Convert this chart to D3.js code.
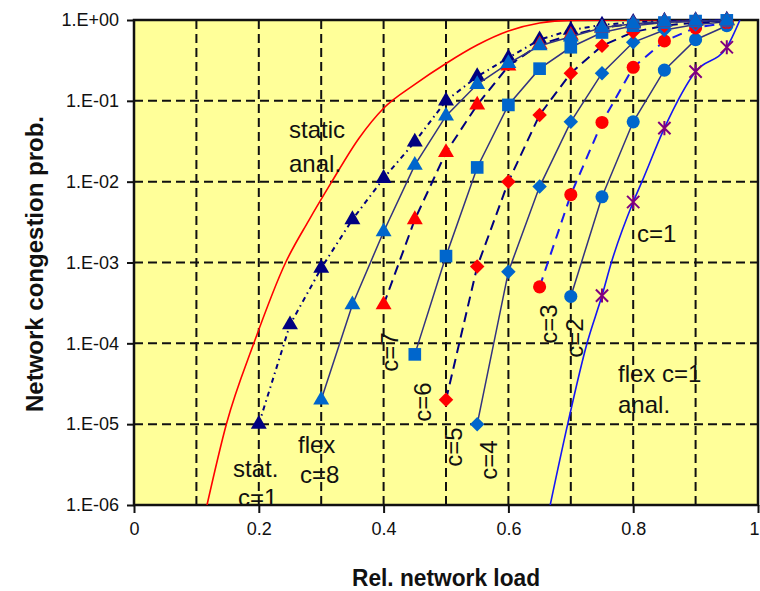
<!DOCTYPE html>
<html>
<head>
<meta charset="utf-8">
<script src="https://cdn.jsdelivr.net/npm/d3@7"></script>
<style>
  body { margin: 0; background: #fff; }
  svg { display: block; }
  text { font-family: "Liberation Sans", Arial, sans-serif; fill: #111; }
</style>
</head>
<body>
<div id="chart"></div>
<script>
// Network congestion probability vs relative network load (log y).

// ---- data ----
const loadStat = [0.2, 0.25, 0.3, 0.35, 0.4, 0.45, 0.5, 0.55, 0.6, 0.65, 0.7, 0.75, 0.8, 0.85, 0.9, 0.95];
const probStat = [1e-5, 1.7e-4, 8.5e-4, 3.4e-3, 1.1e-2, 3.1e-2, 0.1, 0.2, 0.34, 0.57, 0.75, 0.87, 0.94, 0.97, 0.99, 1.0];

const loadC8 = [0.3, 0.35, 0.4, 0.45, 0.5, 0.55, 0.6, 0.65, 0.7, 0.75, 0.8, 0.85, 0.9, 0.95];
const probC8 = [2e-5, 3e-4, 2.4e-3, 1.6e-2, 6.5e-2, 0.16, 0.29, 0.48, 0.62, 0.8, 0.9, 0.95, 0.97, 0.98];

const loadC7 = [0.4, 0.45, 0.5, 0.55, 0.6, 0.65, 0.7, 0.75, 0.8, 0.85, 0.9, 0.95];
const probC7 = [3e-4, 3.4e-3, 2.3e-2, 0.089, 0.27, 0.5, 0.65, 0.8, 0.9, 0.95, 0.97, 0.98];

const loadC6 = [0.45, 0.5, 0.55, 0.6, 0.65, 0.7, 0.75, 0.8, 0.85, 0.9, 0.95];
const probC6 = [7.3e-5, 1.2e-3, 1.5e-2, 0.089, 0.25, 0.46, 0.7, 0.85, 0.93, 0.97, 0.99];

const loadC5 = [0.5, 0.55, 0.6, 0.65, 0.7, 0.75, 0.8, 0.85, 0.9, 0.95];
const probC5 = [2e-5, 8.9e-4, 1e-2, 0.067, 0.22, 0.48, 0.71, 0.85, 0.93, 0.97];

const loadC4 = [0.55, 0.6, 0.65, 0.7, 0.75, 0.8, 0.85, 0.9, 0.95];
const probC4 = [1e-5, 7.7e-4, 8.7e-3, 0.055, 0.22, 0.53, 0.75, 0.88, 0.95];

const loadC3 = [0.65, 0.7, 0.75, 0.8, 0.85, 0.9, 0.95];
const probC3 = [5e-4, 6.9e-3, 0.054, 0.26, 0.55, 0.8, 0.93];

const loadC2 = [0.7, 0.75, 0.8, 0.85, 0.9, 0.95];
const probC2 = [3.8e-4, 6.5e-3, 0.055, 0.24, 0.57, 0.85];

const loadC1 = [0.75, 0.8, 0.85, 0.9, 0.95];
const probC1 = [3.9e-4, 5.6e-3, 0.046, 0.23, 0.46];

// analytic curves
const loadStaticAnal = [0.117, 0.148, 0.192, 0.243, 0.28, 0.317, 0.36, 0.4, 0.45, 0.5, 0.55, 0.6, 0.65, 0.7, 0.8, 0.95];
const probStaticAnal = [1e-6, 1e-5, 1e-4, 1e-3, 3.3e-3, 1e-2, 3.4e-2, 0.081, 0.16, 0.29, 0.49, 0.73, 0.92, 0.99, 1, 1];

const loadFlexAnal = [0.667, 0.695, 0.726, 0.75, 0.765, 0.8, 0.814, 0.85, 0.9, 0.95, 0.971];
const probFlexAnal = [1e-6, 1e-5, 1e-4, 3.9e-4, 1e-3, 5.6e-3, 1e-2, 0.046, 0.23, 0.46, 1];

// axis ticks
const yTicks = [1e-6, 1e-5, 1e-4, 1e-3, 1e-2, 1e-1, 1];
const yTickLabels = ["1.E-06", "1.E-05", "1.E-04", "1.E-03", "1.E-02", "1.E-01", "1.E+00"];
const xTicks = [0, 0.2, 0.4, 0.6, 0.8, 1];
const xTickLabels = ["0", "0.2", "0.4", "0.6", "0.8", "1"];
const xGrid = [0.1, 0.2, 0.3, 0.4, 0.5, 0.6, 0.7, 0.8, 0.9];
const yGrid = [1e-5, 1e-4, 1e-3, 1e-2, 1e-1];

// ---- layout ----
const W = 760, H = 591;
const plot = { left: 134, right: 758, top: 20, bottom: 505 };

const NAVY = "#000080";
const MBLUE = "#0066CC";
const RED = "#FF0000";
const PURPLE = "#800080";
const LINE = "#333380";

const svg = d3.select("#chart").append("svg").attr("width", W).attr("height", H);

const x = d3.scaleLinear().domain([0, 1]).range([plot.left, plot.right]);
const y = d3.scaleLog().domain([1e-6, 1]).range([plot.bottom, plot.top]);

svg.append("defs").append("clipPath").attr("id", "plotClip")
  .append("rect")
  .attr("x", plot.left).attr("y", plot.top)
  .attr("width", plot.right - plot.left).attr("height", plot.bottom - plot.top);

// background
svg.append("rect")
  .attr("x", plot.left).attr("y", plot.top)
  .attr("width", plot.right - plot.left).attr("height", plot.bottom - plot.top)
  .attr("fill", "#FFFF99");

// grid
const grid = svg.append("g").attr("stroke", "#111").attr("stroke-width", 2).attr("stroke-dasharray", "9,5");
grid.selectAll(".vg").data(xGrid).join("line")
  .attr("x1", d => x(d)).attr("x2", d => x(d))
  .attr("y1", plot.top).attr("y2", plot.bottom);
grid.selectAll(".hg").data(yGrid).join("line")
  .attr("x1", plot.left).attr("x2", plot.right)
  .attr("y1", d => y(d)).attr("y2", d => y(d));

// axes
const yAxis = d3.axisLeft(y).tickValues(yTicks)
  .tickFormat((d, i) => yTickLabels[i]).tickSize(7).tickPadding(8);
const xAxis = d3.axisBottom(x).tickValues(xTicks)
  .tickFormat((d, i) => xTickLabels[i]).tickSize(8).tickPadding(9);

const gy = svg.append("g").attr("transform", `translate(${plot.left},0)`).call(yAxis);
const gx = svg.append("g").attr("transform", `translate(0,${plot.bottom})`).call(xAxis);
[gy, gx].forEach(g => {
  g.select(".domain").remove();
  g.selectAll(".tick line").attr("stroke", "#111").attr("stroke-width", 2);
  g.selectAll(".tick text")
    .style("font-family", "'Liberation Sans', Arial, sans-serif")
    .style("font-size", "18px")
    .attr("fill", "#222");
});
// last x label sits on the window edge, nudge it in
gx.selectAll(".tick text").filter(d => d === 1).attr("dx", -4);

// plot frame
svg.append("rect")
  .attr("x", plot.left).attr("y", plot.top)
  .attr("width", plot.right - plot.left).attr("height", plot.bottom - plot.top)
  .attr("fill", "none").attr("stroke", "#111").attr("stroke-width", 2.5);

// ---- curves ----
const curveLayer = svg.append("g").attr("clip-path", "url(#plotClip)");
const smooth = d3.line().x(d => x(d[0])).y(d => y(d[1])).curve(d3.curveMonotoneX);
const straight = d3.line().x(d => x(d[0])).y(d => y(d[1]));

curveLayer.append("path")
  .attr("d", smooth(d3.zip(loadStaticAnal, probStaticAnal)))
  .attr("fill", "none").attr("stroke", RED).attr("stroke-width", 1.6);

curveLayer.append("path")
  .attr("d", smooth(d3.zip(loadFlexAnal, probFlexAnal)))
  .attr("fill", "none").attr("stroke", "#1515F5").attr("stroke-width", 1.6);

// marker shapes
const star = {
  draw(ctx, size) {
    const r = Math.sqrt(size) / 2;
    ctx.moveTo(-r, -r); ctx.lineTo(r, r);
    ctx.moveTo(-r, r); ctx.lineTo(r, -r);
    ctx.moveTo(0, -r * 1.15); ctx.lineTo(0, r * 1.15);
  }
};

const series = [
  { load: loadStat, prob: probStat, shape: d3.symbolTriangle, size: 110, fill: NAVY, line: NAVY, width: 2, dash: "5,4,1.5,4" },
  { load: loadC1, prob: probC1, shape: star, size: 150, fill: "none", stroke: PURPLE, line: null },
  { load: loadC2, prob: probC2, shape: d3.symbolCircle, size: 135, fill: MBLUE, line: LINE, width: 1.5, dash: null },
  { load: loadC3, prob: probC3, shape: d3.symbolCircle, size: 135, fill: RED, line: "#1a1aF0", width: 2, dash: "10,7" },
  { load: loadC4, prob: probC4, shape: d3.symbolSquare, size: 105, rot: 45, fill: MBLUE, line: LINE, width: 1.5, dash: null },
  { load: loadC5, prob: probC5, shape: d3.symbolSquare, size: 105, rot: 45, fill: RED, line: NAVY, width: 2, dash: "10,6" },
  { load: loadC6, prob: probC6, shape: d3.symbolSquare, size: 160, fill: MBLUE, line: LINE, width: 1.5, dash: null },
  { load: loadC7, prob: probC7, shape: d3.symbolTriangle, size: 110, fill: RED, line: NAVY, width: 2, dash: "10,6" },
  { load: loadC8, prob: probC8, shape: d3.symbolTriangle, size: 110, fill: MBLUE, line: LINE, width: 1.5, dash: null }
];

series.forEach(s => {
  const pts = d3.zip(s.load, s.prob);
  const g = svg.append("g");
  if (s.line) {
    g.append("path")
      .attr("d", straight(pts))
      .attr("fill", "none")
      .attr("stroke", s.line)
      .attr("stroke-width", s.width)
      .attr("stroke-dasharray", s.dash);
  }
  const sym = d3.symbol().type(s.shape).size(s.size);
  g.selectAll("path.mk").data(pts).join("path")
    .attr("class", "mk")
    .attr("d", sym)
    .attr("transform", d => `translate(${x(d[0])},${y(d[1])}) rotate(${s.rot || 0})`)
    .attr("fill", s.fill)
    .attr("stroke", s.stroke || "none")
    .attr("stroke-width", s.stroke ? 2 : 0);
});

// ---- annotations ----
const notes = [
  { t: "static", x: 289, y: 138 },
  { t: "anal.", x: 289, y: 172 },
  { t: "stat.", x: 233, y: 477 },
  { t: "c=1", x: 238, y: 506 },
  { t: "flex", x: 298, y: 453 },
  { t: "c=8", x: 300, y: 483 },
  { t: "c=1", x: 637, y: 242 },
  { t: "flex c=1", x: 618, y: 382 },
  { t: "anal.", x: 618, y: 413 }
];
svg.append("g").selectAll("text").data(notes).join("text")
  .attr("x", d => d.x).attr("y", d => d.y)
  .style("font-size", "24px")
  .text(d => d.t);

const vnotes = [
  { t: "c=7", x: 398, y: 352 },
  { t: "c=6", x: 431, y: 402 },
  { t: "c=5", x: 462, y: 447 },
  { t: "c=4", x: 497, y: 460 },
  { t: "c=3", x: 557, y: 324 },
  { t: "c=2", x: 583, y: 338 }
];
svg.append("g").selectAll("text").data(vnotes).join("text")
  .attr("transform", d => `translate(${d.x},${d.y}) rotate(-90)`)
  .attr("text-anchor", "middle")
  .style("font-size", "24px")
  .text(d => d.t);

// axis titles
svg.append("text")
  .attr("x", 446).attr("y", 586)
  .attr("text-anchor", "middle")
  .attr("textLength", 188).attr("lengthAdjust", "spacingAndGlyphs")
  .style("font-size", "24px").style("font-weight", "bold")
  .text("Rel. network load");

svg.append("text")
  .attr("transform", "translate(43,264) rotate(-90)")
  .attr("text-anchor", "middle")
  .style("font-size", "24px").style("font-weight", "bold")
  .text("Network congestion prob.");
</script>
</body>
</html>
